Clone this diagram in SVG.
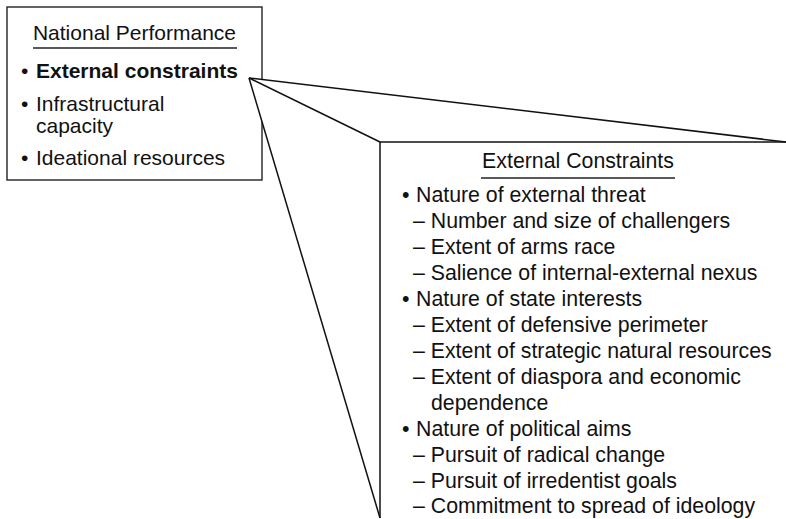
<svg xmlns="http://www.w3.org/2000/svg" width="786" height="519" viewBox="0 0 786 519">
  <style>
    .t { font-family: "Liberation Sans", Arial, Helvetica, sans-serif; font-size: 21px; fill: #111; }
    .r { font-size: 21.3px; }
    .b { font-weight: bold; }
    .box { fill: #fff; stroke: #222; stroke-width: 1.4; }
    .ln { stroke: #111; stroke-width: 1.5; fill: none; }
    .ul { stroke: #222; stroke-width: 1.5; }
  </style>
  <rect x="0" y="0" width="786" height="519" fill="#fff"/>
  <g id="node-national-performance">
    <rect class="box" x="7" y="7" width="255" height="173"/>
    <text class="t" x="134.5" y="40" text-anchor="middle">National Performance</text>
    <line class="ul" x1="33" y1="48" x2="237" y2="48"/>
    <text class="t" x="21" y="78">•</text>
    <text class="t b" x="36" y="78">External constraints</text>
    <text class="t" x="21" y="111">•</text>
    <text class="t" x="36" y="111">Infrastructural</text>
    <text class="t" x="36" y="133">capacity</text>
    <text class="t" x="21" y="165">•</text>
    <text class="t" x="36" y="165">Ideational resources</text>
  </g>
  <g id="connectors">
    <polygon points="249,78 786,142 786,519 380,519" fill="#fff" stroke="none"/>
    <line class="ln" x1="249" y1="78" x2="786" y2="142"/>
    <line class="ln" x1="249" y1="78" x2="380" y2="142"/>
    <line class="ln" x1="249" y1="78" x2="380" y2="518"/>
  </g>
  <g id="node-external-constraints">
    <line class="ln" x1="380" y1="142" x2="786" y2="142"/>
    <line class="ln" x1="380" y1="142" x2="380" y2="518"/>
    <text class="t r" x="578" y="168" text-anchor="middle">External Constraints</text>
    <line class="ul" x1="481" y1="178" x2="675" y2="178"/>
    <text class="t r" x="402" y="202">•</text>
    <text class="t r" x="416" y="202">Nature of external threat</text>
    <text class="t r" x="413" y="228">– Number and size of challengers</text>
    <text class="t r" x="413" y="254">– Extent of arms race</text>
    <text class="t r" x="413" y="280">– Salience of internal-external nexus</text>
    <text class="t r" x="402" y="306">•</text>
    <text class="t r" x="416" y="306">Nature of state interests</text>
    <text class="t r" x="413" y="332">– Extent of defensive perimeter</text>
    <text class="t r" x="413" y="358">– Extent of strategic natural resources</text>
    <text class="t r" x="413" y="384">– Extent of diaspora and economic</text>
    <text class="t r" x="431" y="410">dependence</text>
    <text class="t r" x="402" y="436">•</text>
    <text class="t r" x="416" y="436">Nature of political aims</text>
    <text class="t r" x="413" y="462">– Pursuit of radical change</text>
    <text class="t r" x="413" y="488">– Pursuit of irredentist goals</text>
    <text class="t r" x="413" y="513">– Commitment to spread of ideology</text>
  </g>
</svg>
